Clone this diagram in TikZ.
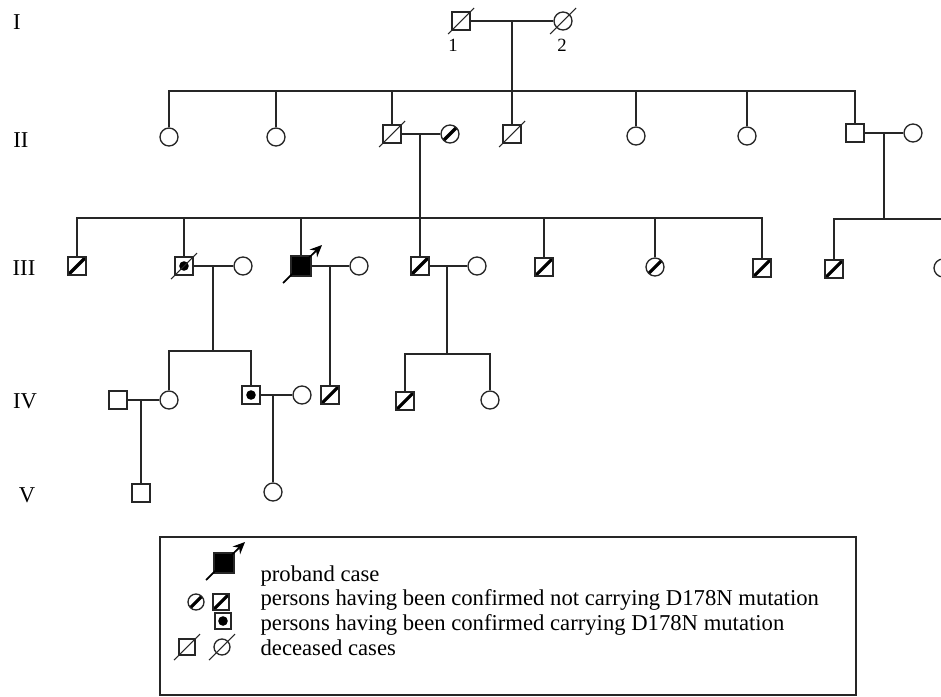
\documentclass[tikz,border=0pt]{standalone}
\usepackage{fontspec}
\setmainfont{Liberation Serif}
\usetikzlibrary{arrows.meta}

\begin{document}
\begin{tikzpicture}[x=0.75pt,y=0.75pt,yscale=-1,xscale=1,
  color=black!85, text=black, line width=0.9pt,
  font=\fontsize{17}{20}\selectfont,
  male/.style={draw, rectangle, minimum size=13.5pt, inner sep=0pt, line width=1pt},
  female/.style={draw, circle, minimum size=13.5pt, inner sep=0pt, line width=1pt},
  small/.style={minimum size=12pt},
  nocarrier/.style={path picture={\draw[line width=2.4pt, black] (path picture bounding box.south west) -- (path picture bounding box.north east);}},
  carrier/.style={path picture={\fill[black] (path picture bounding box.center) circle (3.6pt);}},
  deceased/.style={append after command={([shift={(-13,13)}]\tikzlastnode.center) edge[draw, line width=0.8pt] ([shift={(13,-13)}]\tikzlastnode.center)}},
  proband/.style={fill=black, minimum size=15pt, append after command={([shift={(-18,17)}]\tikzlastnode.center) edge[draw, black, line width=1.3pt, -{Stealth[length=9pt,width=8pt]}] ([shift={(21,-21)}]\tikzlastnode.center)}},
  genlbl/.style={inner sep=0pt},
  numlbl/.style={inner sep=0pt, font=\fontsize{14}{16}\selectfont},
  legtext/.style={anchor=base west, inner sep=0pt}]

\useasboundingbox (0,0) rectangle (941,696);

% generation labels
\node[genlbl] (gI) at (17,22) {I};
\node[genlbl] (gII) at (21,140) {II};
\node[genlbl] (gIII) at (24,268) {III};
\node[genlbl] (gIV) at (25,401) {IV};
\node[genlbl] (gV) at (27,495) {V};

% generation I
\node[male, deceased] (i1) at (461,21) {};
\node[female, deceased] (i2) at (563,21) {};
\node[numlbl] (n1) at (453,45) {1};
\node[numlbl] (n2) at (562,45) {2};
\coordinate (m1) at (512,21);
\coordinate (s2) at (512,91);

% generation II
\node[female] (ii1) at (169,137) {};
\node[female] (ii2) at (276,137) {};
\node[male, deceased] (ii3) at (392,134) {};
\node[female, nocarrier] (ii3w) at (450,134) {};
\node[male, deceased] (ii4) at (512,134) {};
\node[female] (ii5) at (636,136) {};
\node[female] (ii6) at (747,136) {};
\node[male] (ii7) at (855,133) {};
\node[female] (ii7w) at (913,133) {};
\coordinate (m2) at (420,134);
\coordinate (s3) at (420,218);
\coordinate (m3) at (884,133);
\coordinate (s3b) at (884,219);

% generation III
\node[male, nocarrier] (iii1) at (77,266) {};
\node[male, carrier, deceased] (iii2) at (184,266) {};
\node[female] (iii2w) at (243,266) {};
\node[male, proband] (iii3) at (301,266) {};
\node[female] (iii3w) at (359,266) {};
\node[male, nocarrier] (iii4) at (420,266) {};
\node[female] (iii4w) at (477,266) {};
\node[male, nocarrier] (iii5) at (544,267) {};
\node[female, nocarrier] (iii6) at (655,267) {};
\node[male, nocarrier] (iii7) at (762,268) {};
\node[male, nocarrier] (iii8) at (834,269) {};
\node[female] (iii9) at (943,268) {};
\coordinate (m4a) at (213,266);
\coordinate (s4a) at (213,351);
\coordinate (m4b) at (330,266);
\coordinate (m4c) at (447,266);
\coordinate (s4c) at (447,354);

% generation IV
\node[male] (iv1) at (118,400) {};
\node[female] (iv2) at (169,400) {};
\node[male, carrier] (iv3) at (251,395) {};
\node[female] (iv3w) at (302,395) {};
\node[male, nocarrier] (iv4) at (330,395) {};
\node[male, nocarrier] (iv5) at (405,401) {};
\node[female] (iv6) at (490,400) {};
\coordinate (m5a) at (141,400);
\coordinate (m5b) at (273,395);

% generation V
\node[male] (v1) at (141,493) {};
\node[female] (v2) at (273,492) {};

% couples
\draw (i1) -- (i2);
\draw (ii3) -- (ii3w);
\draw (ii7) -- (ii7w);
\draw (iii2) -- (iii2w);
\draw (iii3) -- (iii3w);
\draw (iii4) -- (iii4w);
\draw (iv1) -- (iv2);
\draw (iv3) -- (iv3w);

% descent lines
\draw (m1) -- (s2);
\foreach \c in {ii1,ii2,ii3,ii4,ii5,ii6,ii7}
  \draw (\c.north) |- (s2);
\draw (m2) -- (s3);
\foreach \c in {iii1,iii2,iii3,iii4,iii5,iii6,iii7}
  \draw (\c.north) |- (s3);
\draw (m3) -- (s3b);
\foreach \c in {iii8,iii9}
  \draw (\c.north) |- (s3b);
\draw (m4a) -- (s4a);
\foreach \c in {iv2,iv3}
  \draw (\c.north) |- (s4a);
\draw (m4b) -- (iv4);
\draw (m4c) -- (s4c);
\foreach \c in {iv5,iv6}
  \draw (\c.north) |- (s4c);
\draw (m5a) -- (v1);
\draw (m5b) -- (v2);

% legend
\draw[line width=1pt] (160,537) rectangle (856,695);
\node[male, proband] (lg1) at (224,563) {};
\node[female, small, nocarrier] (lg2a) at (196,602) {};
\node[male, small, nocarrier] (lg2b) at (221,602) {};
\node[male, small, carrier] (lg3) at (223,621) {};
\node[male, small, deceased] (lg4a) at (187,647) {};
\node[female, small, deceased] (lg4b) at (222,647) {};
\node[legtext] (t1) at (260,581.5) {proband case};
\node[legtext] (t2) at (260,605.5) {persons having been confirmed not carrying D178N mutation};
\node[legtext] (t3) at (260,630) {persons having been confirmed carrying D178N mutation};
\node[legtext] (t4) at (260,655) {deceased cases};

\end{tikzpicture}
\end{document}
